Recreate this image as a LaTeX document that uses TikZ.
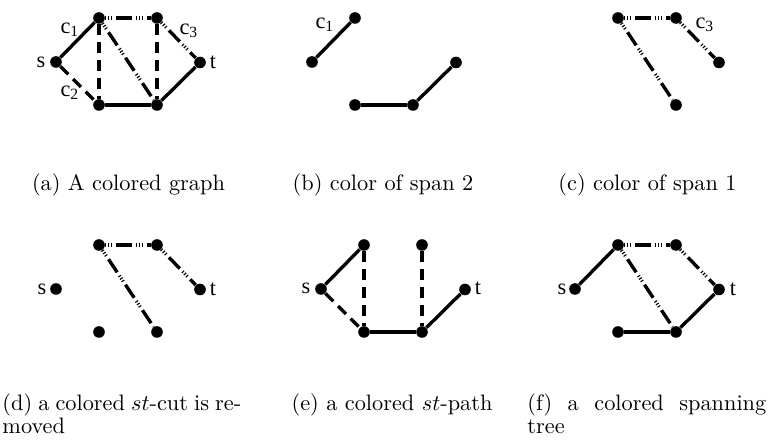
\documentclass[tikz,border=0pt]{standalone}
\usepackage{fontspec}
\newfontfamily\lblfont{Liberation Serif}
\tikzset{
  vtx/.style={circle, fill=black, inner sep=0pt, minimum size=5.2pt},
  eOne/.style={line width=1.5pt},
  eTwo/.style={line width=1.5pt, dash pattern=on 5pt off 3pt},
  eThree/.style={line width=1.5pt,
    dash pattern=on 0.5pt off 0.8pt on 0.5pt off 0.8pt on 0.5pt off 1.8pt on 7pt off 1.8pt},
  lbl/.style={font=\fontsize{10}{12}\selectfont\lblfont, inner sep=0pt},
  captxt/.style={font=\fontsize{10}{10.5}\selectfont, inner sep=0pt, anchor=base},
  captxtW/.style={captxt, text width=107pt, align=justify, anchor=north west},
}
\begin{document}
\begin{tikzpicture}[x=0.448pt, y=-0.448pt]
  \useasboundingbox (0,0) rectangle (768,445);

  % (a) the whole colored graph
  \begin{scope}
    \node[vtx] (a-s) at (56,62) {};
    \node[vtx] (a-p) at (99,18) {};
    \node[vtx] (a-q) at (157,18) {};
    \node[vtx] (a-t) at (200,62.5) {};
    \node[vtx] (a-x) at (99,105) {};
    \node[vtx] (a-y) at (157,105) {};
    \draw[eOne]   (a-s) -- (a-p);
    \draw[eOne]   (a-x) -- (a-y);
    \draw[eOne]   (a-y) -- (a-t);
    \draw[eTwo]   (a-s) -- (a-x);
    \draw[eTwo]   (a-p) -- (a-x);
    \draw[eTwo]   (a-q) -- (a-y);
    \draw[eThree] (a-p) -- (a-q);
    \draw[eThree] (a-p) -- (a-y);
    \draw[eThree] (a-q) -- (a-t);
    \node[lbl] (a-ls) at (41,62) {s};
    \node[lbl] (a-lt) at (213,62) {t};
    \node[lbl] (a-c1) at (70,30) {c\textsubscript{1}};
    \node[lbl] (a-c2) at (70,93) {c\textsubscript{2}};
    \node[lbl] (a-c3) at (189,31) {c\textsubscript{3}};
  \end{scope}

  % (b) span of c1
  \begin{scope}[shift={(256,0)}]
    \node[vtx] (b-s) at (56,62) {};
    \node[vtx] (b-p) at (99,18) {};
    \node[vtx] (b-t) at (200,62.5) {};
    \node[vtx] (b-x) at (99,105) {};
    \node[vtx] (b-y) at (157,105) {};
    \draw[eOne] (b-s) -- (b-p);
    \draw[eOne] (b-x) -- (b-y);
    \draw[eOne] (b-y) -- (b-t);
    \node[lbl] (b-c1) at (69,25) {c\textsubscript{1}};
  \end{scope}

  % (c) span of c3
  \begin{scope}[shift={(519,0)}]
    \node[vtx] (c-p) at (99,18) {};
    \node[vtx] (c-q) at (157,18) {};
    \node[vtx] (c-t) at (200,62.5) {};
    \node[vtx] (c-y) at (157,105) {};
    \draw[eThree] (c-p) -- (c-q);
    \draw[eThree] (c-p) -- (c-y);
    \draw[eThree] (c-q) -- (c-t);
    \node[lbl] (c-c3) at (186,25) {c\textsubscript{3}};
  \end{scope}

  % (d) cut removed
  \begin{scope}[shift={(0,227)}]
    \node[vtx] (d-s) at (56,62) {};
    \node[vtx] (d-p) at (99,18) {};
    \node[vtx] (d-q) at (157,18) {};
    \node[vtx] (d-t) at (200,62.5) {};
    \node[vtx] (d-x) at (99,105) {};
    \node[vtx] (d-y) at (157,105) {};
    \draw[eThree] (d-p) -- (d-q);
    \draw[eThree] (d-p) -- (d-y);
    \draw[eThree] (d-q) -- (d-t);
    \node[lbl] (d-ls) at (42,62) {s};
    \node[lbl] (d-lt) at (213,62) {t};
  \end{scope}

  % (e) st-path
  \begin{scope}[shift={(265,227)}]
    \node[vtx] (e-s) at (56,62) {};
    \node[vtx] (e-p) at (99,18) {};
    \node[vtx] (e-q) at (157,18) {};
    \node[vtx] (e-t) at (200,62.5) {};
    \node[vtx] (e-x) at (99,105) {};
    \node[vtx] (e-y) at (157,105) {};
    \draw[eOne] (e-s) -- (e-p);
    \draw[eOne] (e-x) -- (e-y);
    \draw[eOne] (e-y) -- (e-t);
    \draw[eTwo] (e-s) -- (e-x);
    \draw[eTwo] (e-p) -- (e-x);
    \draw[eTwo] (e-q) -- (e-y);
    \node[lbl] (e-ls) at (41,61) {s};
    \node[lbl] (e-lt) at (213,61) {t};
  \end{scope}

  % (f) spanning tree
  \begin{scope}[shift={(519,227)}]
    \node[vtx] (f-s) at (56,62) {};
    \node[vtx] (f-p) at (99,18) {};
    \node[vtx] (f-q) at (157,18) {};
    \node[vtx] (f-t) at (200,62.5) {};
    \node[vtx] (f-x) at (99,105) {};
    \node[vtx] (f-y) at (157,105) {};
    \draw[eOne]   (f-s) -- (f-p);
    \draw[eOne]   (f-x) -- (f-y);
    \draw[eOne]   (f-y) -- (f-t);
    \draw[eThree] (f-p) -- (f-q);
    \draw[eThree] (f-p) -- (f-y);
    \draw[eThree] (f-q) -- (f-t);
    \node[lbl] (f-ls) at (43,62) {s};
    \node[lbl] (f-lt) at (214,62) {t};
  \end{scope}

  % captions
  \node[captxt] (capA) at (128.5,191) {(a) A colored graph};
  \node[captxt] (capB) at (383,191) {(b) color of span 2};
  \node[captxt] (capC) at (647.5,191) {(c) color of span 1};
  \node[captxtW] (capD) at (2,393) {(d) a colored $st$-cut is re-\linebreak moved};
  \node[captxt] (capE) at (392,411) {(e) a colored $st$-path};
  \node[captxtW] (capF) at (527,393) {(f) a colored spanning\linebreak tree};
\end{tikzpicture}
\end{document}
